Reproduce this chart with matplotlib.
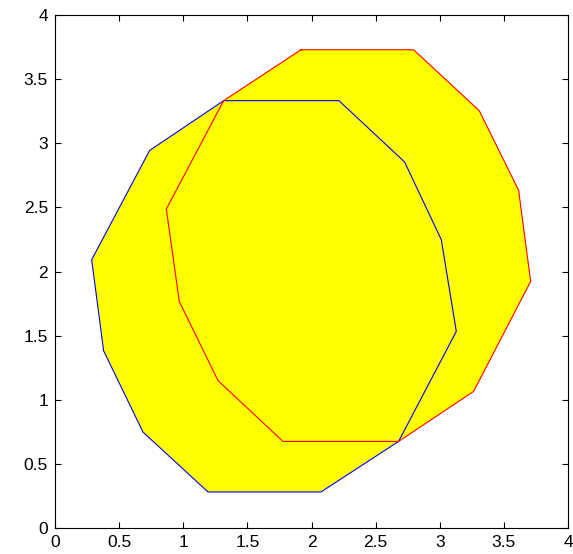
import matplotlib
matplotlib.use("Agg")
import matplotlib.pyplot as plt

# polygon vertices
blue_x = [1.315, 2.214, 2.726, 3.012, 3.129, 2.679, 2.074, 1.193, 0.686, 0.379, 0.286, 0.738]
blue_y = [3.332, 3.332, 2.854, 2.248, 1.533, 0.675, 0.281, 0.281, 0.748, 1.382, 2.092, 2.944]

red_x = [1.918, 2.796, 3.308, 3.615, 3.709, 3.264, 2.679, 1.778, 1.271, 0.969, 0.868, 1.315]
red_y = [3.729, 3.729, 3.254, 2.633, 1.923, 1.065, 0.675, 0.675, 1.149, 1.767, 2.487, 3.332]

ticks = [0, 0.5, 1, 1.5, 2, 2.5, 3, 3.5, 4]
tick_labels = ["0", "0.5", "1", "1.5", "2", "2.5", "3", "3.5", "4"]

plt.rcParams['font.family'] = ['Liberation Sans', 'DejaVu Sans']

fig = plt.figure(figsize=(5.73, 5.54), dpi=100)
ax = fig.add_axes([55/573, 26/554, 513/573, 513/554])

# yellow fill of both shapes, then the outlines on top
ax.fill(blue_x, blue_y, color="#ffff00", lw=0)
ax.fill(red_x, red_y, color="#ffff00", lw=0)
ax.plot(blue_x + blue_x[:1], blue_y + blue_y[:1], color="#0000ff", lw=0.8)
ax.plot(red_x + red_x[:1], red_y + red_y[:1], color="#ff0000", lw=0.8)

ax.set_xlim(0, 4)
ax.set_ylim(0, 4)
ax.set_xticks(ticks)
ax.set_xticklabels(tick_labels)
ax.set_yticks(ticks)
ax.set_yticklabels(tick_labels)
ax.tick_params(direction="in", length=4, width=0.8, top=True, right=True,
               labelsize=12.5, pad=5)
for s in ax.spines.values():
    s.set_linewidth(0.8)

fig.savefig("out.png", dpi=100)
